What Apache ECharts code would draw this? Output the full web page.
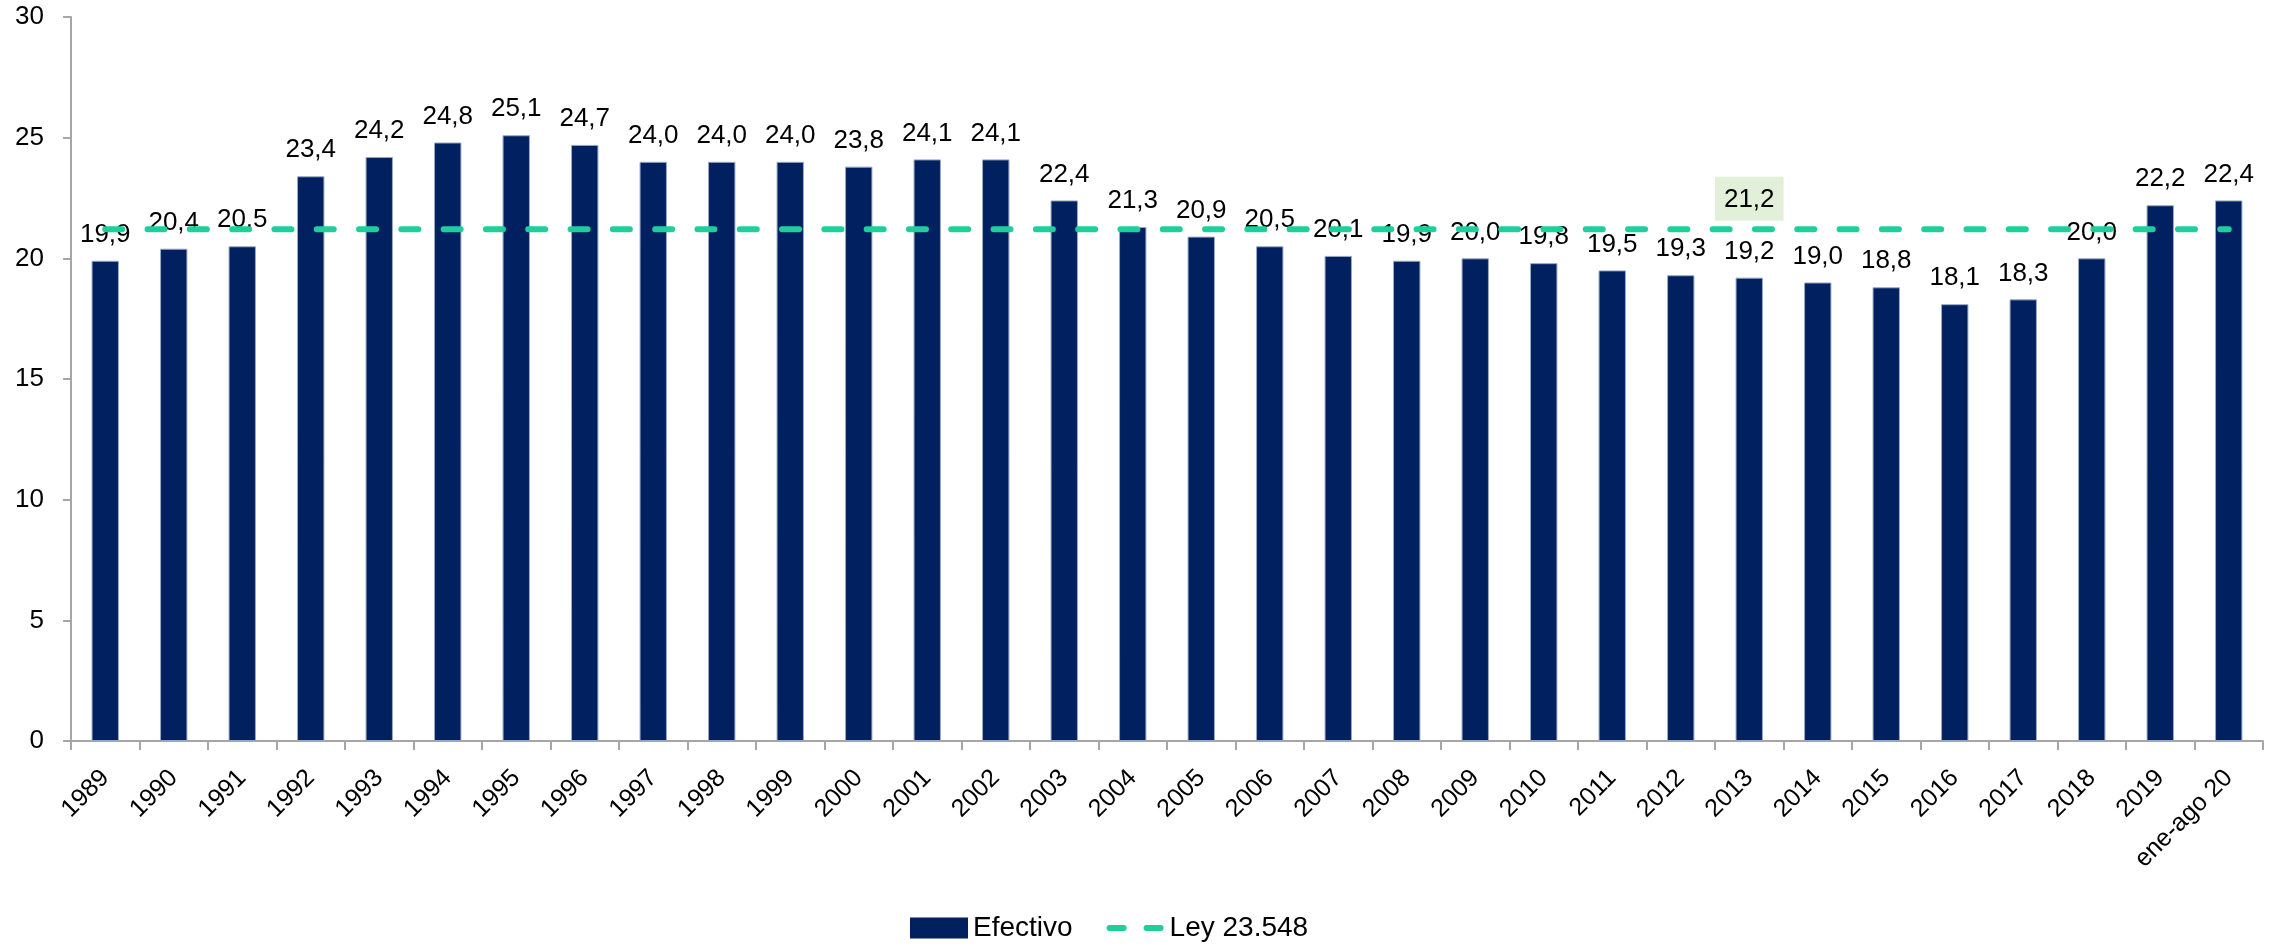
<!DOCTYPE html>
<html>
<head>
<meta charset="utf-8">
<script src="https://cdn.jsdelivr.net/npm/echarts@6/dist/echarts.min.js"></script>
<style>
html,body{margin:0;padding:0;background:#fff;}
#chart{width:2272px;height:946px;}
</style>
</head>
<body>
<div id="chart"></div>
<script>
const categories = ['1989','1990','1991','1992','1993','1994','1995','1996','1997','1998','1999','2000','2001','2002','2003','2004','2005','2006','2007','2008','2009','2010','2011','2012','2013','2014','2015','2016','2017','2018','2019','ene-ago 20'];
const efectivo = [19.9,20.4,20.5,23.4,24.2,24.8,25.1,24.7,24.0,24.0,24.0,23.8,24.1,24.1,22.4,21.3,20.9,20.5,20.1,19.9,20.0,19.8,19.5,19.3,19.2,19.0,18.8,18.1,18.3,20.0,22.2,22.4];
const ley = [21.2,21.2,21.2,21.2,21.2,21.2,21.2,21.2,21.2,21.2,21.2,21.2,21.2,21.2,21.2,21.2,21.2,21.2,21.2,21.2,21.2,21.2,21.2,21.2,21.2,21.2,21.2,21.2,21.2,21.2,21.2,21.2];
const leyLabelIndex = 24;
const yTicks = [0,5,10,15,20,25,30];

const FONT = "'Liberation Sans', Arial, sans-serif";
const fmt = v => Number(v).toFixed(1).replace('.', ',');
const GREEN = '#1ECF9B';
const dashIcon = 'path://M0,0h0.05v0.05h-0.05z' +
  'M3,7.5h14a3,3 0 0 1 0,6h-14a3,3 0 0 1 0,-6z' +
  'M40,7.5h14a3,3 0 0 1 0,6h-14a3,3 0 0 1 0,-6z' +
  'M57.95,20.95h0.05v0.05h-0.05z';

const chart = echarts.init(document.getElementById('chart'));
chart.setOption({
  animation: false,
  textStyle: {fontFamily: FONT, color: '#000'},
  grid: {left: 71, right: 9, top: 17, bottom: 205, containLabel: false},
  legend: {
    left: 905, top: 909,
    itemWidth: 58, itemHeight: 21, itemGap: 34,
    textStyle: {fontFamily: FONT, fontSize: 28, color: '#000'},
    data: [
      {name: 'Efectivo', icon: 'rect', itemStyle: {color: '#002060', borderWidth: 0}},
      {name: 'Ley 23.548', icon: dashIcon, itemStyle: {color: GREEN, borderWidth: 0}, lineStyle: {width: 0, opacity: 0}}
    ]
  },
  xAxis: {
    type: 'category',
    data: categories,
    boundaryGap: true,
    axisLine: {lineStyle: {color: '#A6A6A6', width: 2}},
    axisTick: {show: true, length: 9, lineStyle: {color: '#A6A6A6', width: 2}},
    axisLabel: {rotate: 45, fontSize: 25, color: '#000', fontFamily: FONT, margin: 33, interval: 0}
  },
  yAxis: {
    type: 'value',
    min: yTicks[0], max: yTicks[yTicks.length - 1], interval: 5,
    axisLine: {show: true, lineStyle: {color: '#A6A6A6', width: 2}},
    axisTick: {show: true, length: 8, lineStyle: {color: '#A6A6A6', width: 2}},
    splitLine: {show: false},
    axisLabel: {fontSize: 26, color: '#000', fontFamily: FONT, margin: 27}
  },
  series: [
    {
      name: 'Efectivo',
      type: 'bar',
      data: efectivo,
      barWidth: '40%',
      itemStyle: {color: '#002060', borderColor: '#9AA8C4', borderWidth: 1},
      label: {
        show: true, position: 'top', distance: 13,
        fontSize: 26, color: '#000', fontFamily: FONT,
        formatter: p => fmt(p.value)
      }
    },
    {
      name: 'Ley 23.548',
      type: 'line',
      data: ley,
      symbol: 'none',
      itemStyle: {color: GREEN},
      lineStyle: {color: GREEN, width: 6, type: [17, 25.3], cap: 'round'},
      z: 3,
      markPoint: {
        symbol: 'rect',
        symbolSize: 1,
        itemStyle: {color: 'rgba(0,0,0,0)'},
        label: {
          show: true, position: 'top', distance: 8,
          fontSize: 26, color: '#000', fontFamily: FONT,
          backgroundColor: '#E2F0D9', padding: [10, 9, 8, 9],
          formatter: p => fmt(p.value)
        },
        data: [{coord: [categories[leyLabelIndex], ley[leyLabelIndex]], value: ley[leyLabelIndex]}]
      }
    }
  ]
});
</script>
</body>
</html>
